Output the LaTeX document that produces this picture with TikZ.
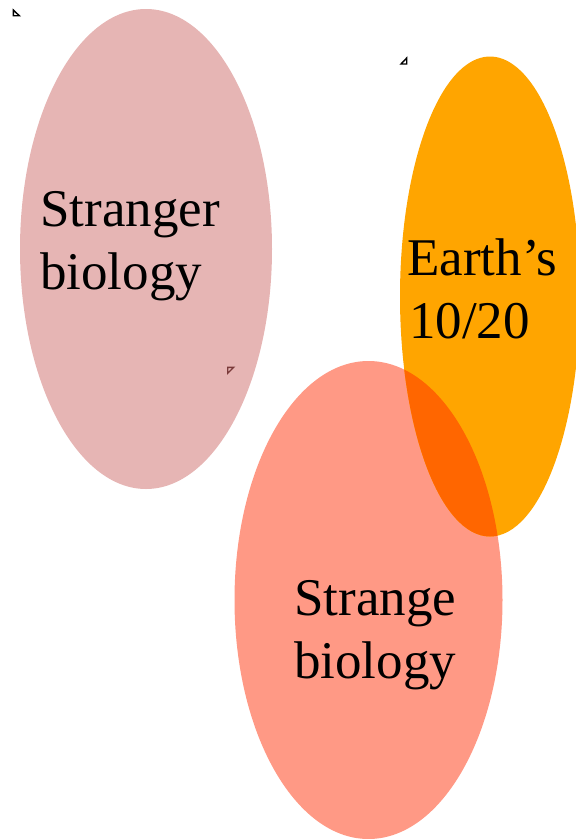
\documentclass[tikz,border=0pt]{standalone}
\usepackage{fontspec}
\setmainfont{Liberation Serif}
\definecolor{pinkc}{HTML}{E6B5B4}
\definecolor{orangec}{HTML}{FFA500}
\definecolor{salmonc}{HTML}{FF9985}
\definecolor{overc}{HTML}{FF6600}
\definecolor{markred}{HTML}{7A3A3A}
\begin{document}
\begin{tikzpicture}[x=1pt,y=-1pt,
  lbl/.style={anchor=base west,inner sep=0pt,font=\fontsize{53}{63}\selectfont},
  mk/.style={draw=black,line width=1.4pt,fill=white,line join=miter}]
\useasboundingbox (0,0) rectangle (576,839);
\clip (0,0) rectangle (576,839);
\fill[pinkc] (146,249) ellipse [x radius=126,y radius=240];
\fill[salmonc] (368.5,600) ellipse [x radius=134,y radius=239];
\fill[orangec] (490,296.5) ellipse [x radius=90,y radius=240];
\begin{scope}
  \clip (368.5,600) ellipse [x radius=134,y radius=239];
  \fill[overc] (490,296.5) ellipse [x radius=90,y radius=240];
\end{scope}
\node[lbl] (s1) at (40,226) {Stranger};
\node[lbl] (s2) at (40,289) {biology};
\node[lbl] (e1) at (407,275) {Earth’s};
\node[lbl] (e2) at (409,338) {10/20};
\node[lbl] (t1) at (294,615) {Strange};
\node[lbl] (t2) at (294,678) {biology};
\draw[mk] (13.3,10) -- (13.3,15.7) -- (19.3,15.7) -- cycle;
\draw[mk] (406.7,58) -- (406.7,64) -- (401,64) -- cycle;
\draw[mk,draw=markred,fill=pinkc] (227.7,367.3) -- (233.7,367.3) -- (227.7,373.3) -- cycle;
\end{tikzpicture}
\end{document}
